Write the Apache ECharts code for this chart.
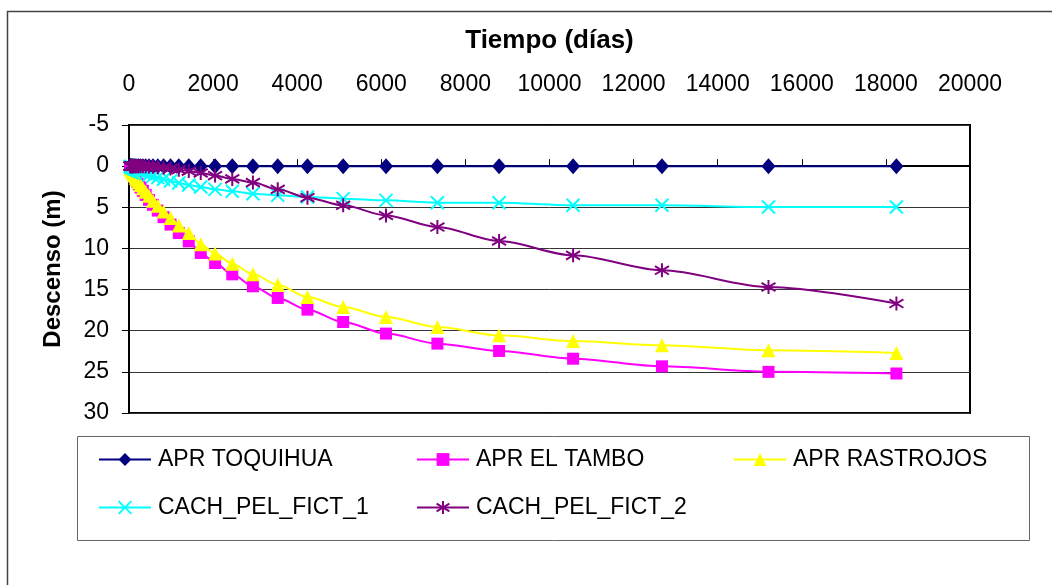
<!DOCTYPE html>
<html>
<head>
<meta charset="utf-8">
<script src="https://cdn.jsdelivr.net/npm/echarts@6/dist/echarts.min.js"></script>
<style>
  html, body { margin: 0; padding: 0; background: #fff; }
  #main { width: 1052px; height: 585px; }
</style>
</head>
<body>
<div id="main"></div>
<script>
var chartDom = document.getElementById('main');
var myChart = echarts.init(chartDom);

// tiempo (dias)
var tiempo = [31, 37, 44, 53, 64, 77, 92, 110, 133, 159, 191, 229, 275, 330, 396, 476,
  571, 685, 822, 987, 1184, 1421, 1706, 2047, 2456, 2947, 3537, 4244, 5093, 6112,
  7334, 8801, 10561, 12674, 15208, 18250];

// descenso (m)
var toquihua = [0, 0, 0, 0, 0, 0, 0, 0, 0, 0, 0, 0, 0, 0, 0, 0,
  0, 0, 0, 0, 0, 0, 0, 0, 0, 0, 0, 0, 0, 0, 0, 0, 0, 0, 0, 0];
var elTambo = [0.25, 0.3, 0.4, 0.5, 0.6, 0.75, 0.9, 1.1, 1.3, 1.55, 1.85, 2.2, 2.6, 3.0, 3.5, 4.1,
  4.7, 5.4, 6.2, 7.1, 8.13, 9.14, 10.55, 11.77, 13.15, 14.6, 16.02, 17.44, 18.94, 20.35,
  21.57, 22.46, 23.4, 24.33, 25.0, 25.2];
var rastrojos = [0.2, 0.25, 0.32, 0.4, 0.5, 0.65, 0.8, 0.95, 1.15, 1.4, 1.65, 1.95, 2.3, 2.7, 3.1, 3.6,
  4.2, 4.8, 5.5, 6.3, 7.2, 8.13, 9.5, 10.63, 11.85, 13.15, 14.4, 15.9, 17.12, 18.33,
  19.55, 20.56, 21.25, 21.77, 22.38, 22.7];
var fict1 = [0.05, 0.06, 0.08, 0.1, 0.13, 0.17, 0.21, 0.26, 0.32, 0.39, 0.47, 0.56, 0.66, 0.78, 0.9, 1.05,
  1.22, 1.4, 1.6, 1.81, 2.05, 2.29, 2.54, 2.82, 3.06, 3.35, 3.55, 3.75, 3.95, 4.16,
  4.44, 4.44, 4.76, 4.76, 4.97, 4.97];
var fict2 = [0, 0, 0, 0, 0, 0, 0, 0, 0, 0, 0, 0, 0.01, 0.02, 0.03, 0.05,
  0.08, 0.13, 0.2, 0.3, 0.43, 0.6, 0.83, 1.15, 1.55, 2.0, 2.82, 3.83, 4.76, 6.0,
  7.4, 9.1, 10.84, 12.66, 14.69, 16.7];

var nombres = ['APR TOQUIHUA', 'APR EL TAMBO', 'APR RASTROJOS', 'CACH_PEL_FICT_1', 'CACH_PEL_FICT_2'];
var colores = ['#000080', '#FF00FF', '#FFFF00', '#00FFFF', '#800080'];

var font = "'Liberation Sans', Arial, sans-serif";

function pares(ys) {
  return tiempo.map(function (t, i) { return [t, ys[i]]; });
}

var symX = 'path://M0,0L10,10M10,0L0,10';
var symStar = 'path://M5,0L5,10M0,2L10,8M0,8L10,2';

function serie(i, ys, symbol, size, stroke) {
  return {
    name: nombres[i],
    type: 'line',
    data: pares(ys),
    smooth: 0.3,
    smoothMonotone: 'x',
    symbol: symbol,
    symbolSize: size,
    showAllSymbol: true,
    lineStyle: { color: colores[i], width: 2 },
    itemStyle: stroke ? { color: colores[i], borderColor: colores[i], borderWidth: 2 } : { color: colores[i] },
    emphasis: { disabled: true },
    z: 2 + i
  };
}

function leyenda(i, left, top) {
  return {
    data: [nombres[i]],
    left: left,
    top: top,
    padding: 0,
    itemWidth: 52,
    itemHeight: 16,
    selectedMode: false,
    textStyle: { fontFamily: font, fontSize: 23, color: '#000', padding: [0, 0, 0, 2] }
  };
}

var option = {
  backgroundColor: '#fff',
  animation: false,
  graphic: [
    { type: 'rect', left: 5, top: 9, shape: { width: 1100, height: 700 },
      style: { fill: 'none', stroke: '#444', lineWidth: 1.5 }, silent: true },
    { type: 'rect', left: 75, top: 434, shape: { width: 952, height: 104 },
      style: { fill: 'none', stroke: '#666', lineWidth: 1 }, silent: true }
  ],
  legend: [
    leyenda(0, 98, 448),
    leyenda(1, 416, 448),
    leyenda(2, 733, 448),
    leyenda(3, 98, 496),
    leyenda(4, 416, 496)
  ],
  grid: {
    left: 129, right: 82, top: 125, bottom: 172,
    show: true, borderColor: '#000', borderWidth: 2, backgroundColor: 'transparent'
  },
  xAxis: {
    type: 'value',
    position: 'top',
    min: 0, max: 20000, interval: 2000,
    name: 'Tiempo (días)',
    nameLocation: 'middle',
    nameGap: 71,
    nameTextStyle: { fontFamily: font, fontSize: 26, fontWeight: 'bold', color: '#000' },
    axisLine: { lineStyle: { color: '#000', width: 2 } },
    axisTick: { show: true, inside: false, length: 7, lineStyle: { color: '#000' } },
    axisLabel: {
      fontFamily: font, fontSize: 23, color: '#000', margin: 29,
      formatter: function (v) { return String(v); }
    },
    splitLine: { show: false }
  },
  yAxis: {
    type: 'value',
    inverse: true,
    min: -5, max: 30, interval: 5,
    name: 'Descenso (m)',
    nameLocation: 'middle',
    nameGap: 64,
    nameTextStyle: { fontFamily: font, fontSize: 24, fontWeight: 'bold', color: '#000' },
    axisLine: { lineStyle: { color: '#000', width: 2 } },
    axisTick: { show: true, length: 7, lineStyle: { color: '#000' } },
    axisLabel: { fontFamily: font, fontSize: 23, color: '#000', margin: 20 },
    splitLine: { show: true, lineStyle: { color: '#333', width: 1 } }
  },
  series: [
    serie(0, toquihua, 'diamond', [14, 16], false),
    serie(1, elTambo, 'rect', 12, false),
    serie(2, rastrojos, 'triangle', 14, false),
    serie(3, fict1, symX, 13, true),
    serie(4, fict2, symStar, 14, true)
  ]
};

myChart.setOption(option);
</script>
</body>
</html>
